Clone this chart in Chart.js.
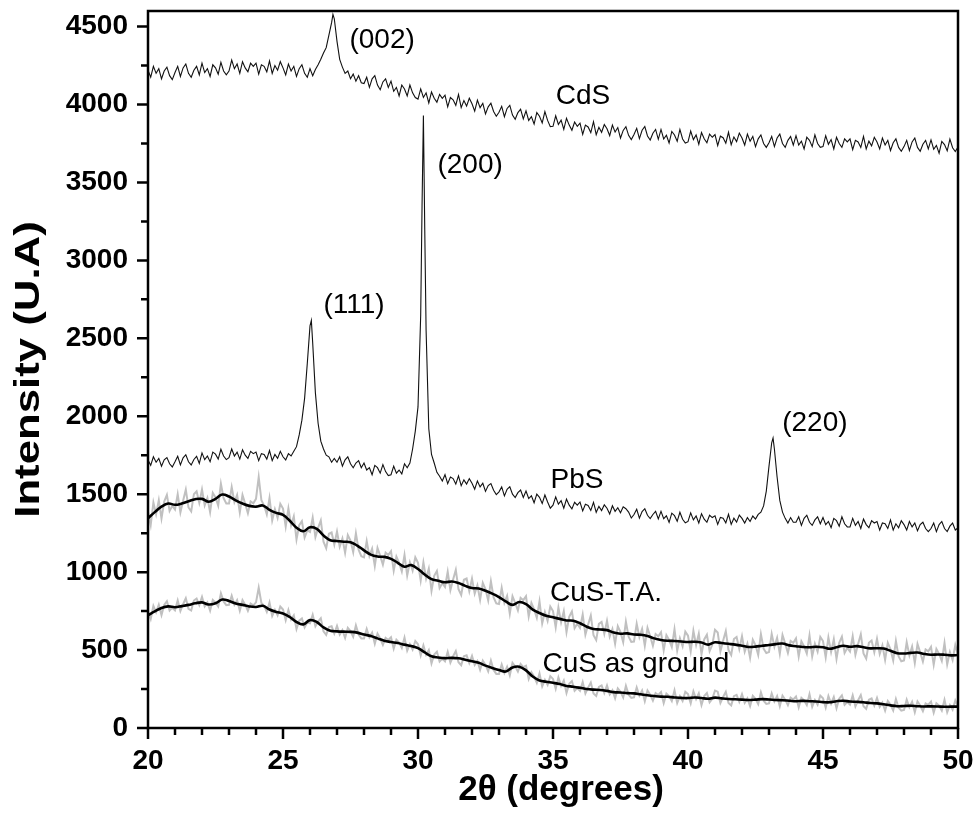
<!DOCTYPE html>
<html lang="en">
<head>
  <meta charset="UTF-8" />
  <title>XRD patterns</title>
  <script src="https://cdn.jsdelivr.net/npm/chart.js"></script>
  <style>
    html, body { margin: 0; padding: 0; background: #fff; }
    canvas { display: block; }
  </style>
</head>
<body>
<canvas id="xrdChart" width="979" height="840"></canvas>
<script>
  // 2theta sampling of the scans (20..50 deg)
  const X_START = 20;
  const RAW_STEP = 0.1;
  const SMOOTH_STEP = 0.25;

  const xTickValues = [20, 25, 30, 35, 40, 45, 50];
  const yTickValues = [0, 500, 1000, 1500, 2000, 2500, 3000, 3500, 4000, 4500];

  const cdsY = [
    4220,4175,4245,4200,4230,4165,4215,4240,4185,4160,
    4205,4245,4180,4235,4260,4200,4175,4220,4245,4190,
    4265,4205,4230,4180,4255,4235,4195,4270,4215,4190,
    4215,4285,4230,4260,4200,4275,4235,4210,4265,4245,
    4265,4195,4255,4245,4210,4280,4200,4250,4220,4275,
    4235,4190,4260,4215,4245,4180,4230,4255,4200,4175,
    4230,4185,4225,4255,4290,4330,4365,4445,4525,4550,
    4405,4290,4240,4200,4215,4165,4195,4150,4185,4140,
    4135,4175,4110,4165,4185,4125,4095,4145,4165,4110,
    4150,4085,4110,4055,4125,4100,4055,4125,4075,4045,
    4035,4100,4045,4075,4010,4080,4040,4015,4065,4040,
    4060,3985,4045,4030,3995,4065,3980,4025,3990,4040,
    4005,3958,4028,3980,4008,3940,3985,4008,3955,3925,
    3950,3988,3922,3975,3995,3932,3905,3948,3970,3908,
    3960,3898,3922,3875,3948,3925,3882,3955,3898,3858,
    3860,3928,3872,3900,3840,3912,3868,3835,3888,3860,
    3880,3808,3868,3856,3820,3890,3806,3854,3822,3872,
    3845,3800,3868,3823,3852,3785,3834,3858,3802,3775,
    3808,3847,3781,3835,3859,3798,3772,3816,3840,3777,
    3840,3779,3803,3753,3827,3805,3764,3840,3779,3753,
    3760,3830,3775,3805,3745,3820,3780,3755,3810,3790,
    3807,3737,3797,3787,3752,3822,3742,3792,3762,3817,
    3785,3740,3810,3765,3795,3730,3780,3805,3750,3725,
    3755,3795,3730,3785,3810,3750,3725,3770,3795,3740,
    3800,3740,3765,3715,3790,3770,3730,3805,3750,3725,
    3730,3800,3745,3775,3715,3790,3750,3725,3780,3760,
    3780,3710,3770,3760,3725,3795,3715,3765,3735,3790,
    3760,3715,3785,3740,3770,3705,3755,3780,3725,3700,
    3730,3770,3705,3760,3785,3725,3700,3745,3770,3715,
    3773,3713,3738,3688,3763,3743,3703,3778,3723,3698,
    3728
  ];
  const cdsPeakX = [26.85];
  const cdsPeakY = [4578];

  const pbsY = [
    1720,1685,1740,1705,1730,1680,1720,1735,1695,1675,
    1708,1743,1688,1733,1753,1708,1688,1723,1743,1698,
    1765,1722,1745,1708,1770,1757,1725,1788,1745,1722,
    1735,1790,1745,1770,1725,1785,1750,1730,1775,1760,
    1770,1715,1760,1755,1725,1780,1715,1755,1730,1775,
    1740,1720,1760,1745,1775,1805,1880,1975,2115,2340,
    2580,2470,2150,1955,1840,1790,1750,1740,1705,1730,
    1705,1740,1680,1720,1740,1695,1670,1700,1715,1670,
    1700,1655,1670,1625,1685,1670,1635,1690,1645,1620,
    1625,1680,1635,1655,1630,1695,1670,1700,1790,1905,
    2060,2650,3930,2550,1920,1755,1700,1640,1615,1585,
    1625,1568,1610,1600,1565,1618,1555,1592,1565,1600,
    1570,1532,1585,1547,1570,1518,1555,1568,1525,1497,
    1515,1547,1489,1531,1548,1500,1478,1510,1527,1479,
    1520,1472,1490,1445,1500,1480,1440,1495,1450,1410,
    1430,1483,1436,1458,1410,1468,1430,1406,1448,1430,
    1450,1393,1436,1428,1396,1448,1384,1422,1395,1432,
    1410,1373,1426,1390,1413,1381,1419,1407,1385,1347,
    1370,1403,1346,1389,1407,1365,1343,1370,1390,1342,
    1390,1343,1361,1319,1378,1362,1326,1384,1339,1317,
    1325,1380,1335,1360,1315,1375,1340,1320,1365,1350,
    1361,1306,1351,1346,1316,1371,1306,1346,1321,1366,
    1345,1315,1350,1325,1360,1340,1370,1385,1425,1520,
    1680,1830,1790,1610,1460,1385,1345,1315,1350,1320,
    1320,1355,1300,1345,1365,1320,1300,1335,1355,1310,
    1350,1305,1325,1285,1345,1330,1295,1355,1310,1290,
    1290,1345,1300,1325,1280,1340,1305,1285,1330,1315,
    1325,1270,1315,1310,1280,1335,1270,1310,1285,1330,
    1305,1270,1325,1290,1315,1265,1305,1320,1280,1260,
    1280,1315,1260,1305,1325,1280,1260,1295,1315,1270,
    1285
  ];
  const pbsPeakX = [26.05, 30.15, 30.25, 43.15];
  const pbsPeakY = [2615, 3350, 3200, 1860];

  const cusTaRawY = [
    1386,1302,1447,1372,1461,1345,1453,1496,1393,1425,
    1402,1500,1383,1458,1529,1415,1390,1500,1518,1444,
    1530,1428,1476,1385,1508,1480,1426,1567,1475,1440,
    1440,1545,1450,1496,1383,1495,1439,1378,1454,1442,
    1470,1610,1461,1427,1371,1475,1332,1404,1348,1438,
    1408,1293,1408,1301,1358,1210,1301,1327,1222,1268,
    1258,1349,1225,1284,1332,1195,1153,1246,1254,1177,
    1260,1163,1216,1124,1238,1202,1128,1249,1144,1102,
    1095,1199,1103,1150,1040,1155,1104,1048,1125,1110,
    1135,1010,1100,1060,1005,1110,979,1063,1010,1095,
    1060,946,1062,959,1022,880,976,1007,898,929,
    905,1002,884,953,1014,890,853,951,959,878,
    958,862,916,822,931,890,818,941,838,799,
    795,899,803,848,734,845,802,754,835,820,
    845,716,802,761,707,813,671,744,688,779,
    750,646,772,678,749,615,714,748,640,669,
    642,728,599,662,721,595,564,668,681,605,
    688,587,635,541,653,615,551,682,586,553,
    555,669,583,636,528,643,589,528,603,589,
    615,498,596,565,519,633,497,576,524,618,
    592,492,623,532,605,473,568,598,493,534,
    630,613,491,559,622,500,468,571,584,506,
    588,490,541,450,566,532,469,602,509,481,
    487,604,522,579,476,597,542,482,559,547,
    575,458,556,524,478,593,459,540,490,584,
    558,454,580,488,569,443,547,586,482,514,
    491,588,469,539,601,478,445,547,561,486,
    572,476,530,437,546,505,434,558,459,428,
    433,550,466,522,418,539,485,427,504,492,
    520,406,507,476,431,545,408,487,436,532,
    470
  ];

  const cusGroundRawY = [
    749,699,783,742,791,725,789,813,754,772,
    755,818,751,794,832,765,754,818,831,789,
    841,780,805,753,822,805,780,864,812,788,
    790,848,791,821,753,820,791,752,799,787,
    806,900,802,784,745,805,719,758,723,779,
    760,691,757,696,723,635,689,703,645,676,
    672,727,652,683,704,620,597,648,653,606,
    655,599,628,578,642,622,585,658,600,575,
    575,636,582,612,541,605,574,533,578,565,
    582,509,566,548,514,580,496,538,503,558,
    537,466,530,470,500,415,472,489,426,445,
    428,489,420,460,493,422,403,460,466,417,
    463,404,430,374,432,405,364,433,372,347,
    347,408,354,393,338,418,395,362,411,391,
    400,314,358,330,290,350,267,309,276,333,
    315,252,324,270,305,225,283,301,239,256,
    238,295,222,259,292,221,205,264,273,225,
    273,215,242,190,254,233,196,270,214,193,
    197,260,207,240,172,240,213,176,224,212,
    231,160,220,204,173,241,160,204,173,232,
    217,159,235,185,223,147,205,224,165,188,
    240,233,161,199,232,161,145,204,213,168,
    217,161,190,140,206,187,153,229,175,154,
    158,222,171,205,139,208,182,146,195,183,
    202,133,194,178,147,217,136,180,150,208,
    191,131,205,156,199,127,188,209,149,167,
    150,209,138,178,211,140,123,181,190,144,
    193,136,163,111,173,150,113,186,130,111,
    116,182,133,168,101,170,144,108,158,149,
    169,99,158,143,112,181,101,147,117,177,
    137
  ];

  // smoothed curves, every 0.25 deg
  const cusTaSmoothY = [
    1346,1385,1420,1440,1432,1440,1455,1468,1470,1452,1470,1498,
    1485,1460,1440,1425,1420,1428,1400,1380,1368,1330,1285,1262,
    1288,1278,1235,1205,1200,1195,1192,1170,1140,1112,1100,1098,
    1085,1060,1035,1045,1020,985,955,945,935,940,930,912,
    898,895,880,862,840,812,790,808,795,760,738,720,
    710,700,690,688,672,650,635,632,628,612,605,607,
    600,598,590,575,565,560,558,555,552,553,548,535,
    550,545,540,535,528,520,522,528,532,538,542,530,
    525,520,518,521,518,508,518,528,521,525,518,511,
    512,510,495,480,478,482,484,475,470,472,470,466,
    468
  ];
  const cusGroundSmoothY = [
    724,748,770,780,775,782,790,800,806,792,800,824,
    815,798,790,780,776,784,760,745,735,712,680,665,
    692,680,645,624,620,618,617,612,600,590,575,560,
    552,545,535,526,512,485,460,452,448,450,447,438,
    428,418,400,385,372,362,388,393,370,330,305,297,
    290,282,270,265,258,250,246,244,238,230,228,224,
    222,216,210,205,201,200,196,193,192,196,192,188,
    195,190,186,184,182,180,182,185,183,180,178,175,
    172,174,172,170,166,165,172,175,170,168,165,160,
    158,152,145,140,141,143,140,138,139,138,136,137,
    137
  ];

  // peak / sample labels
  const labelTexts = ["(002)", "CdS", "(200)", "(111)", "(220)", "PbS", "CuS-T.A.", "CuS as ground"];
  const labelX = [28.67, 36.11, 31.93, 27.63, 44.70, 35.89, 36.96, 38.07];
  const labelY = [4410, 4051, 3609, 2711, 1955, 1590, 865, 410];

  const xTitle = "2\u03b8 (degrees)";
  const yTitle = "Intensity (U.A)";

  function toPoints(ys, step, extraX, extraY) {
    const pts = ys.map((y, i) => ({ x: +(X_START + i * step).toFixed(2), y: y }));
    (extraX || []).forEach((x, i) => pts.push({ x: x, y: extraY[i] }));
    pts.sort((a, b) => a.x - b.x);
    return pts;
  }

  const FONT = "'Liberation Sans', Arial, sans-serif";

  const framePlugin = {
    id: "frame",
    afterDraw(chart) {
      const { ctx, chartArea: a, scales } = chart;
      const xs = scales.x, ys = scales.y;
      ctx.save();
      ctx.strokeStyle = "#000";
      ctx.lineWidth = 2.5;
      ctx.strokeRect(a.left, a.top, a.right - a.left, a.bottom - a.top);

      // tick marks, pointing out (minor every 1 deg / 250 counts)
      ctx.beginPath();
      for (let v = 20; v <= 50; v += 1) {
        const px = xs.getPixelForValue(v);
        const len = v % 5 === 0 ? 11 : 7;
        ctx.moveTo(px, a.bottom);
        ctx.lineTo(px, a.bottom + len);
      }
      for (let v = 0; v <= 4500; v += 250) {
        const py = ys.getPixelForValue(v);
        const len = v % 500 === 0 ? 11 : 7;
        ctx.moveTo(a.left, py);
        ctx.lineTo(a.left - len, py);
      }
      ctx.stroke();

      // labels on the curves
      ctx.fillStyle = "#000";
      ctx.font = "28px " + FONT;
      ctx.textAlign = "center";
      ctx.textBaseline = "middle";
      labelTexts.forEach((t, i) => {
        ctx.fillText(t, xs.getPixelForValue(labelX[i]), ys.getPixelForValue(labelY[i]));
      });

      // axis titles
      ctx.font = "bold 35px " + FONT;
      ctx.fillText(xTitle, (a.left + a.right) / 2 + 8, 790);
      ctx.translate(29, (a.top + a.bottom) / 2);
      ctx.rotate(-Math.PI / 2);
      ctx.scale(1.25, 1);
      ctx.fillText(yTitle, 0, 0);
      ctx.restore();
    }
  };

  new Chart(document.getElementById("xrdChart"), {
    type: "line",
    data: {
      datasets: [
        { label: "CuS-T.A. smoothed", data: toPoints(cusTaSmoothY, SMOOTH_STEP), borderColor: "#000", borderWidth: 2.6, tension: 0.4, order: 1 },
        { label: "CuS as ground smoothed", data: toPoints(cusGroundSmoothY, SMOOTH_STEP), borderColor: "#000", borderWidth: 2.6, tension: 0.4, order: 1 },
        { label: "CdS", data: toPoints(cdsY, RAW_STEP, cdsPeakX, cdsPeakY), borderColor: "#111", borderWidth: 1.1, order: 2 },
        { label: "PbS", data: toPoints(pbsY, RAW_STEP, pbsPeakX, pbsPeakY), borderColor: "#111", borderWidth: 1.1, order: 2 },
        { label: "CuS-T.A.", data: toPoints(cusTaRawY, RAW_STEP), borderColor: "#c0c0c0", borderWidth: 2, order: 3 },
        { label: "CuS as ground", data: toPoints(cusGroundRawY, RAW_STEP), borderColor: "#c0c0c0", borderWidth: 2, order: 3 }
      ]
    },
    options: {
      responsive: false,
      animation: false,
      events: [],
      elements: { point: { radius: 0 }, line: { fill: false } },
      layout: { padding: { top: 11, right: 21 } },
      plugins: { legend: { display: false }, tooltip: { enabled: false } },
      scales: {
        x: {
          type: "linear",
          min: 20,
          max: 50,
          grid: { display: false, drawTicks: false },
          border: { display: false },
          ticks: { autoSkip: false, maxRotation: 0, padding: 16, color: "#000", font: { family: FONT, size: 28, weight: "bold" }, callback: v => String(v) },
          afterBuildTicks: s => { s.ticks = xTickValues.map(v => ({ value: v })); },
          afterFit: s => { s.height = 112; s.paddingLeft = 0; s.paddingRight = 0; }
        },
        y: {
          min: 0,
          max: 4600,
          grid: { display: false, drawTicks: false },
          border: { display: false },
          ticks: { autoSkip: false, padding: 20, color: "#000", font: { family: FONT, size: 28, weight: "bold" }, callback: v => String(v) },
          afterBuildTicks: s => { s.ticks = yTickValues.map(v => ({ value: v })); },
          afterFit: s => { s.width = 148; s.paddingTop = 0; s.paddingBottom = 0; }
        }
      }
    },
    plugins: [framePlugin]
  });
</script>
</body>
</html>
